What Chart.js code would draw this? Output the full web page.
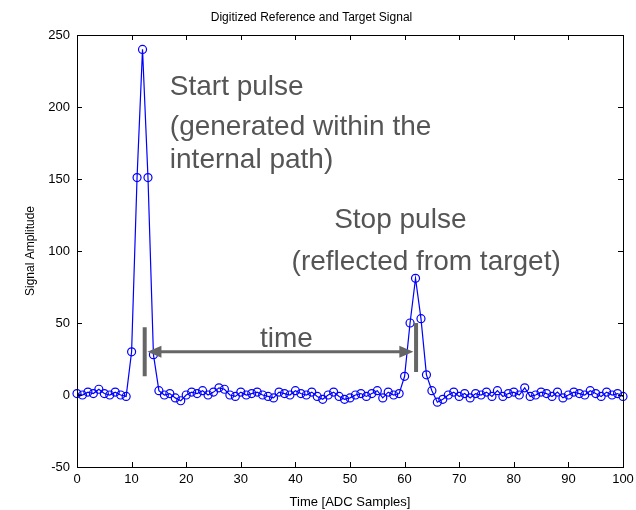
<!DOCTYPE html>
<html>
<head>
<meta charset="utf-8">
<script src="https://cdn.jsdelivr.net/npm/chart.js@4.4.1/dist/chart.umd.min.js"></script>
<style>
  html, body { margin: 0; padding: 0; background: #fff; }
  #wrap { width: 636px; height: 510px; }
</style>
</head>
<body>
<div id="wrap"><canvas id="chart" width="636" height="510"></canvas></div>
<script>
// sample index 0..100
const samples = [
  0, 1, 2, 3, 4, 5, 6, 7, 8, 9,
  10, 11, 12, 13, 14, 15, 16, 17, 18, 19,
  20, 21, 22, 23, 24, 25, 26, 27, 28, 29,
  30, 31, 32, 33, 34, 35, 36, 37, 38, 39,
  40, 41, 42, 43, 44, 45, 46, 47, 48, 49,
  50, 51, 52, 53, 54, 55, 56, 57, 58, 59,
  60, 61, 62, 63, 64, 65, 66, 67, 68, 69,
  70, 71, 72, 73, 74, 75, 76, 77, 78, 79,
  80, 81, 82, 83, 84, 85, 86, 87, 88, 89,
  90, 91, 92, 93, 94, 95, 96, 97, 98, 99,
  100
];
const amplitude = [
  1, 0, 2, 1, 4, 1, 0, 2, 0, -1,
  30, 151, 240, 151, 28, 3, 0, 1, -2, -4,
  0, 2, 1, 3, 0, 2, 5, 4, 0, -1,
  2, 0, 1, 2, 0, -1, -2, 2, 1, 0,
  3, 1, 0, 2, -1, -3, 0, 2, -1, -3,
  -2, 0, 1, -1, 1, 3, -2, 2, 0, 1,
  13, 50, 81, 53, 14, 3, -5, -3, 0, 2,
  -1, 1, -2, 1, 0, 2, -1, 3, -1, 1,
  2, 0, 5, -1, 0, 2, 1, -1, 2, -2,
  0, 2, 1, 0, 3, 1, -1, 2, 0, 1,
  -1
];
const xTicks = [0, 10, 20, 30, 40, 50, 60, 70, 80, 90, 100];
const yTicks = [-50, 0, 50, 100, 150, 200, 250];

const FONT = 'Arial, "Liberation Sans", sans-serif';
const NOTE_GREY = '#555555';

// MATLAB-style box with inward ticks on all four sides
const boxPlugin = {
  id: 'box',
  afterDraw(chart) {
    const { ctx, chartArea: a, scales: { x, y } } = chart;
    ctx.save();
    ctx.strokeStyle = '#000';
    ctx.lineWidth = 1;
    ctx.strokeRect(a.left + 0.5, a.top + 0.5, a.right - a.left, a.bottom - a.top);
    ctx.beginPath();
    xTicks.forEach(v => {
      const px = Math.round(x.getPixelForValue(v)) + 0.5;
      ctx.moveTo(px, a.bottom); ctx.lineTo(px, a.bottom - 5);
      ctx.moveTo(px, a.top); ctx.lineTo(px, a.top + 5);
    });
    yTicks.forEach(v => {
      const py = Math.round(y.getPixelForValue(v)) + 0.5;
      ctx.moveTo(a.left, py); ctx.lineTo(a.left + 5, py);
      ctx.moveTo(a.right, py); ctx.lineTo(a.right - 5, py);
    });
    ctx.stroke();
    ctx.restore();
  }
};

// text notes and the "time" arrow, placed in data units
const notesPlugin = {
  id: 'notes',
  afterDatasetsDraw(chart) {
    const { ctx, scales: { x, y } } = chart;
    const X = v => x.getPixelForValue(v);
    const Y = v => y.getPixelForValue(v);
    ctx.save();
    ctx.fillStyle = NOTE_GREY;
    ctx.font = '28px ' + FONT;
    ctx.textBaseline = 'middle';
    ctx.textAlign = 'left';
    ctx.fillText('Start pulse', X(17), Y(214));
    ctx.fillText('(generated within the', X(17), Y(186));
    ctx.fillText('internal path)', X(17), Y(163));
    ctx.fillText('Stop pulse', X(47.1), Y(121));
    ctx.fillText('(reflected from target)', X(39.3), Y(92));
    ctx.fillText('time', X(33.5), Y(39));

    // vertical markers
    ctx.strokeStyle = '#666666';
    ctx.lineWidth = 4;
    ctx.beginPath();
    ctx.moveTo(X(12.4), Y(47)); ctx.lineTo(X(12.4), Y(13));
    ctx.moveTo(X(62.1), Y(50)); ctx.lineTo(X(62.1), Y(16));
    ctx.stroke();

    // shaft
    const ay = Y(30);
    const x1 = X(12.9), x2 = X(61.6);
    ctx.lineWidth = 3;
    ctx.beginPath();
    ctx.moveTo(x1 + 10, ay); ctx.lineTo(x2 - 10, ay);
    ctx.stroke();
    ctx.fillStyle = '#666666';
    ctx.beginPath();
    ctx.moveTo(x1, ay); ctx.lineTo(x1 + 14, ay - 6); ctx.lineTo(x1 + 14, ay + 6); ctx.closePath();
    ctx.moveTo(x2, ay); ctx.lineTo(x2 - 14, ay - 6); ctx.lineTo(x2 - 14, ay + 6); ctx.closePath();
    ctx.fill();
    ctx.restore();
  }
};

new Chart(document.getElementById('chart'), {
  type: 'line',
  data: {
    datasets: [{
      data: samples.map((s, i) => ({ x: s, y: amplitude[i] })),
      borderColor: '#0000ff',
      borderWidth: 1.2,
      tension: 0,
      fill: false,
      pointStyle: 'circle',
      pointRadius: 4,
      pointBorderWidth: 1.2,
      pointBorderColor: '#0000ff',
      pointBackgroundColor: 'rgba(0,0,0,0)',
      clip: false
    }]
  },
  options: {
    responsive: false,
    animation: false,
    events: [],
    layout: { padding: { left: 0, right: 13, top: 0, bottom: 0 } },
    plugins: {
      legend: { display: false },
      tooltip: { enabled: false },
      title: {
        display: true,
        text: 'Digitized Reference and Target Signal',
        color: '#000',
        font: { family: FONT, size: 12, weight: 'normal' },
        padding: { top: 10, bottom: 10.6 }
      }
    },
    scales: {
      x: {
        type: 'linear',
        min: 0, max: 100,
        afterBuildTicks: s => { s.ticks = xTicks.map(v => ({ value: v })); },
        afterFit: s => { s.height = 43; s.paddingRight = 0; s.paddingLeft = 0; },
        grid: { display: false, drawTicks: false },
        border: { display: false },
        ticks: { color: '#000', padding: 5, font: { family: FONT, size: 13 } },
        title: {
          display: true, text: 'Time [ADC Samples]', color: '#000',
          font: { family: FONT, size: 13 }, padding: { top: 1, bottom: 0 }
        }
      },
      y: {
        min: -50, max: 250,
        afterBuildTicks: s => { s.ticks = yTicks.map(v => ({ value: v })); },
        afterFit: s => { s.width = 77; },
        grid: { display: false, drawTicks: false },
        border: { display: false },
        ticks: { color: '#000', padding: 7, font: { family: FONT, size: 13 } },
        title: {
          display: true, text: 'Signal Amplitude', color: '#000',
          font: { family: FONT, size: 12 }, padding: { top: 23, bottom: 0 }
        }
      }
    }
  },
  plugins: [boxPlugin, notesPlugin]
});
</script>
</body>
</html>
